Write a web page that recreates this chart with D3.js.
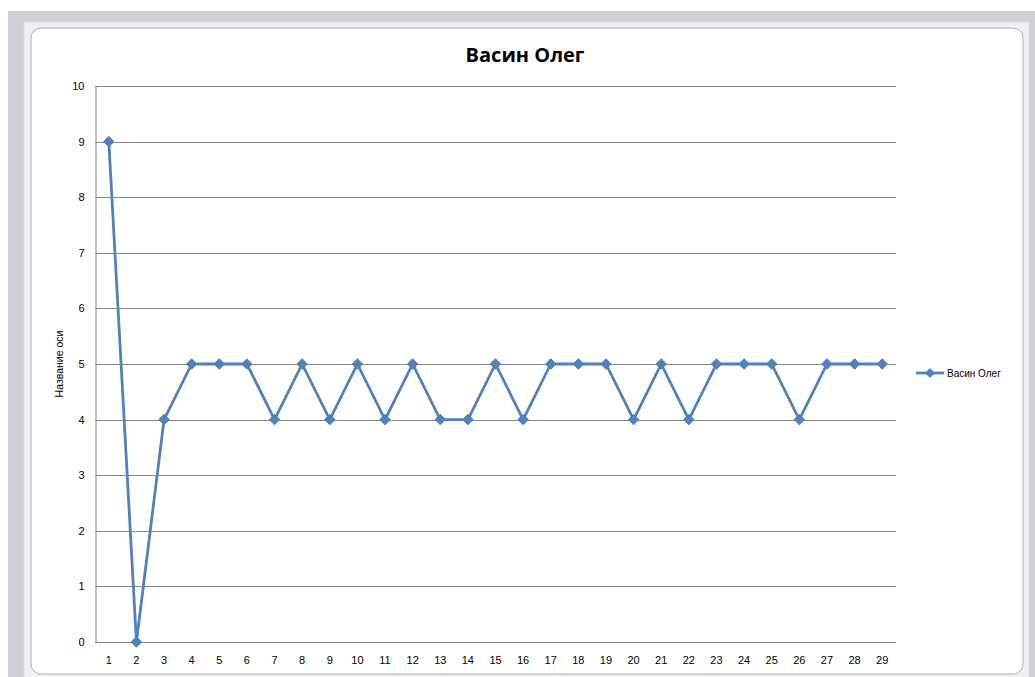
<!DOCTYPE html>
<html>
<head>
<meta charset="utf-8">
<script src="https://cdn.jsdelivr.net/npm/d3@7"></script>
<style>
  html, body { margin: 0; padding: 0; background: #ffffff; }
  svg { display: block; }
</style>
</head>
<body>
<svg id="chart" width="1035" height="677"></svg>
<script>
// Series data
const categories = d3.range(1, 30).map(String);
const seriesName = "Васин Олег";
const values = [9, 0, 4, 5, 5, 5, 4, 5, 4, 5, 4, 5, 4, 4, 5, 4, 5, 5, 5, 4, 5, 4, 5, 5, 5, 4, 5, 5, 5];
const yTicks = [0, 1, 2, 3, 4, 5, 6, 7, 8, 9, 10];
const chartTitle = "Васин Олег";
const yAxisTitle = "Название оси";

const svg = d3.select("#chart");
const W = 1035, H = 677;
const blue = "#4f81bd";
const font = "'Liberation Sans', Arial, sans-serif";

// Window frame around the chart
svg.append("rect").attr("x", 8).attr("y", 11).attr("width", W - 8).attr("height", H - 11).attr("fill", "#cdd1d6");
svg.append("rect").attr("x", 24).attr("y", 22).attr("width", 1005).attr("height", 660)
  .attr("fill", "#eef0f2").attr("stroke", "#dcdfe3");
svg.append("rect").attr("x", 31).attr("y", 28).attr("width", 992).attr("height", 646)
  .attr("rx", 10).attr("fill", "#ffffff").attr("stroke", "#a9adb2").attr("stroke-width", 1);

// Plot area
const plot = { left: 95, right: 896, top: 86, bottom: 642 };

const x = d3.scaleBand().domain(categories).range([plot.left, plot.right]);
const y = d3.scaleLinear().domain([0, 10]).range([plot.bottom, plot.top]);

// Gridlines
svg.append("g")
  .selectAll("line").data(yTicks).join("line")
  .attr("x1", plot.left).attr("x2", plot.right)
  .attr("y1", d => Math.round(y(d)) + 0.5).attr("y2", d => Math.round(y(d)) + 0.5)
  .attr("stroke", "#868686").attr("stroke-width", 1);

// Y axis
const yAxis = svg.append("g")
  .attr("transform", `translate(${plot.left + 0.5},0)`)
  .call(d3.axisLeft(y).tickValues(yTicks).tickSize(0).tickPadding(11).tickFormat(d3.format("d")));
yAxis.select(".domain").attr("stroke", "#868686");
yAxis.selectAll("text").attr("font-family", font).attr("font-size", 11).attr("fill", "#000");

// X axis
const xAxis = svg.append("g")
  .attr("transform", `translate(0,${Math.round(plot.bottom) + 0.5})`)
  .call(d3.axisBottom(x).tickSize(0).tickPadding(14));
xAxis.select(".domain").remove();
xAxis.selectAll("text").attr("font-family", font).attr("font-size", 11).attr("fill", "#000");

// Title
svg.append("text").attr("x", 525).attr("y", 62).attr("text-anchor", "middle")
  .attr("font-family", "'Open Sans', 'Liberation Sans', sans-serif").attr("font-weight", "bold")
  .attr("font-size", 20).attr("fill", "#000").text(chartTitle);

// Y axis title
svg.append("text").attr("transform", `translate(63,${(plot.top + plot.bottom) / 2}) rotate(-90)`)
  .attr("text-anchor", "middle").attr("font-family", font).attr("font-size", 10.5).attr("fill", "#000")
  .text(yAxisTitle);

// Series line
const cx = d => x(d) + x.bandwidth() / 2;
const line = d3.line().x((d, i) => cx(categories[i])).y(d => y(d));
svg.append("path").datum(values).attr("d", line)
  .attr("fill", "none").attr("stroke", blue).attr("stroke-width", 2.8).attr("stroke-linejoin", "round");

// Diamond markers
const diamond = d3.symbol().type(d3.symbolDiamond2).size(70);
svg.append("g").selectAll("path").data(values).join("path")
  .attr("transform", (d, i) => `translate(${cx(categories[i])},${y(d)})`)
  .attr("d", diamond).attr("fill", blue).attr("stroke", blue).attr("stroke-width", 1);

// Legend
const lg = svg.append("g").attr("transform", "translate(916,373)");
lg.append("line").attr("x1", 0).attr("x2", 28).attr("y1", 0).attr("y2", 0)
  .attr("stroke", blue).attr("stroke-width", 2.8);
lg.append("path").attr("transform", "translate(14,0)").attr("d", d3.symbol().type(d3.symbolDiamond2).size(50))
  .attr("fill", blue).attr("stroke", blue);
lg.append("text").attr("x", 31).attr("y", 4).attr("font-family", font).attr("font-size", 10)
  .attr("fill", "#000").text(seriesName);
</script>
</body>
</html>
